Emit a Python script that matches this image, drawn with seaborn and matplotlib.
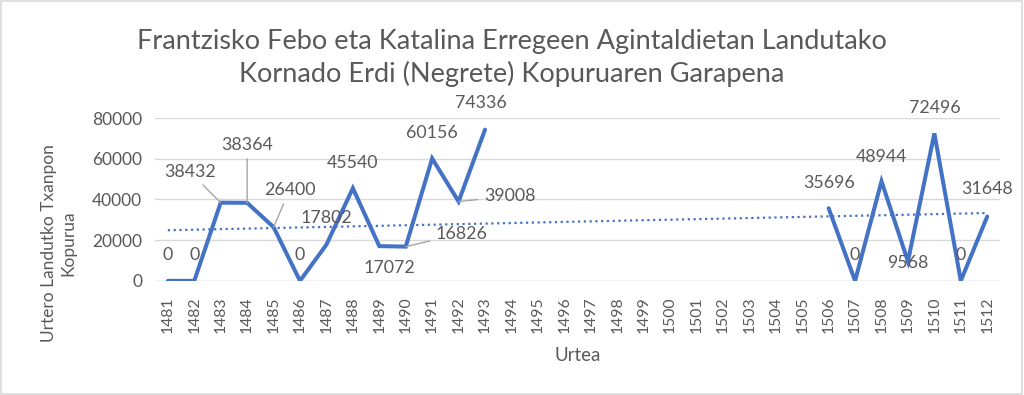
import numpy as np
import pandas as pd
import seaborn as sns
import matplotlib.pyplot as plt
from matplotlib.patches import Rectangle

sns.set_style(style='white')
plt.rcParams['font.family'] = ['Lato', 'DejaVu Sans']

years = list(range(1481, 1513))
values = [0, 0, 38432, 38364, 26400, 0, 17802, 45540, 17072, 16826, 60156, 39008, 74336,
          None, None, None, None, None, None, None, None, None, None, None, None,
          35696, 0, 48944, 9568, 72496, 0, 31648]
y_ticks = [0, 20000, 40000, 60000, 80000]

TXT = '#595959'
BLUE = '#4472C4'
GRID = '#D9D9D9'

df = pd.DataFrame({'idx': range(len(years)), 'year': years, 'value': values})
df['value'] = df['value'].astype(float)
df['segment'] = (df['value'].isna()).cumsum()
valid = df.dropna()

fig = plt.figure(figsize=(10.24, 3.95), dpi=100)
ax = fig.add_axes([0.151, 0.289, 0.826, 0.412])

sns.lineplot(data=valid, x='idx', y='value', units='segment', estimator=None,
             color=BLUE, linewidth=2.9, ax=ax, solid_joinstyle='miter')

# linear trendline over category index
coef = np.polyfit(valid['idx'], valid['value'], 1)
tx = np.array([0, len(years) - 1])
ax.plot(tx, np.polyval(coef, tx), color=BLUE, linewidth=1.6, linestyle=(0, (1, 1.6)))

ax.set_xlim(-0.5, len(years) - 0.5)
ax.set_ylim(0, 80000)
ax.set_yticks(y_ticks)
ax.set_yticklabels([str(v) for v in y_ticks], fontsize=12.5, color=TXT)
ax.set_xticks(df['idx'])
ax.set_xticklabels([str(y) for y in years], rotation=90, fontsize=11.3, color=TXT)
ax.tick_params(axis='y', length=0, pad=9)
ax.tick_params(axis='x', length=0, pad=11)
ax.yaxis.grid(True, color=GRID, linewidth=1)
ax.set_axisbelow(True)
sns.despine(ax=ax, left=True, right=True, top=True, bottom=True)
ax.axhline(0, color=GRID, linewidth=1, zorder=0)
ax.set_xlabel('Urtea', fontsize=13.5, color=TXT, labelpad=10)
ax.set_ylabel('')

fig.text(0.057, 0.385, 'Urtero Landutko Txanpon\nKopurua', rotation=90, ha='center', va='center',
         fontsize=12.5, color=TXT, multialignment='center', linespacing=1.25)
fig.text(0.5, 0.853, 'Frantzisko Febo eta Katalina Erregeen Agintaldietan Landutako\n'
         'Kornado Erdi (Negrete) Kopuruaren Garapena', ha='center', va='center',
         fontsize=19.5, color=TXT, linespacing=1.3)

# data label offsets in pixels (dx, dy) and whether a leader line is drawn
offsets = {1481: (0, 26), 1482: (0, 26), 1483: (-31, 31, True), 1484: (0, 58, True),
           1485: (16, 37, True), 1486: (0, 26), 1487: (0, 27), 1488: (0, 25),
           1489: (10, -22), 1490: (56, 13, True), 1491: (0, 25), 1492: (51, 5, True),
           1493: (-4, 27), 1506: (0, 25), 1507: (0, 26), 1508: (0, 24), 1509: (0, -2),
           1510: (0, 25), 1511: (0, 26), 1512: (0, 27)}
for _, row in valid.iterrows():
    off = offsets[int(row['year'])]
    kw = {}
    if len(off) == 3:
        kw['arrowprops'] = dict(arrowstyle='-', color='#A6A6A6', linewidth=1, shrinkA=2, shrinkB=0)
    ax.annotate(str(int(row['value'])), (row['idx'], row['value']), xytext=off[:2],
                textcoords='offset pixels', ha='center', va='center', fontsize=12.8,
                color=TXT, annotation_clip=False, **kw)

fig.patches.append(Rectangle((0.001, 0.002), 0.997, 0.995, transform=fig.transFigure,
                             fill=False, edgecolor=GRID, linewidth=1.2))

fig.savefig('out.png', dpi=100)
